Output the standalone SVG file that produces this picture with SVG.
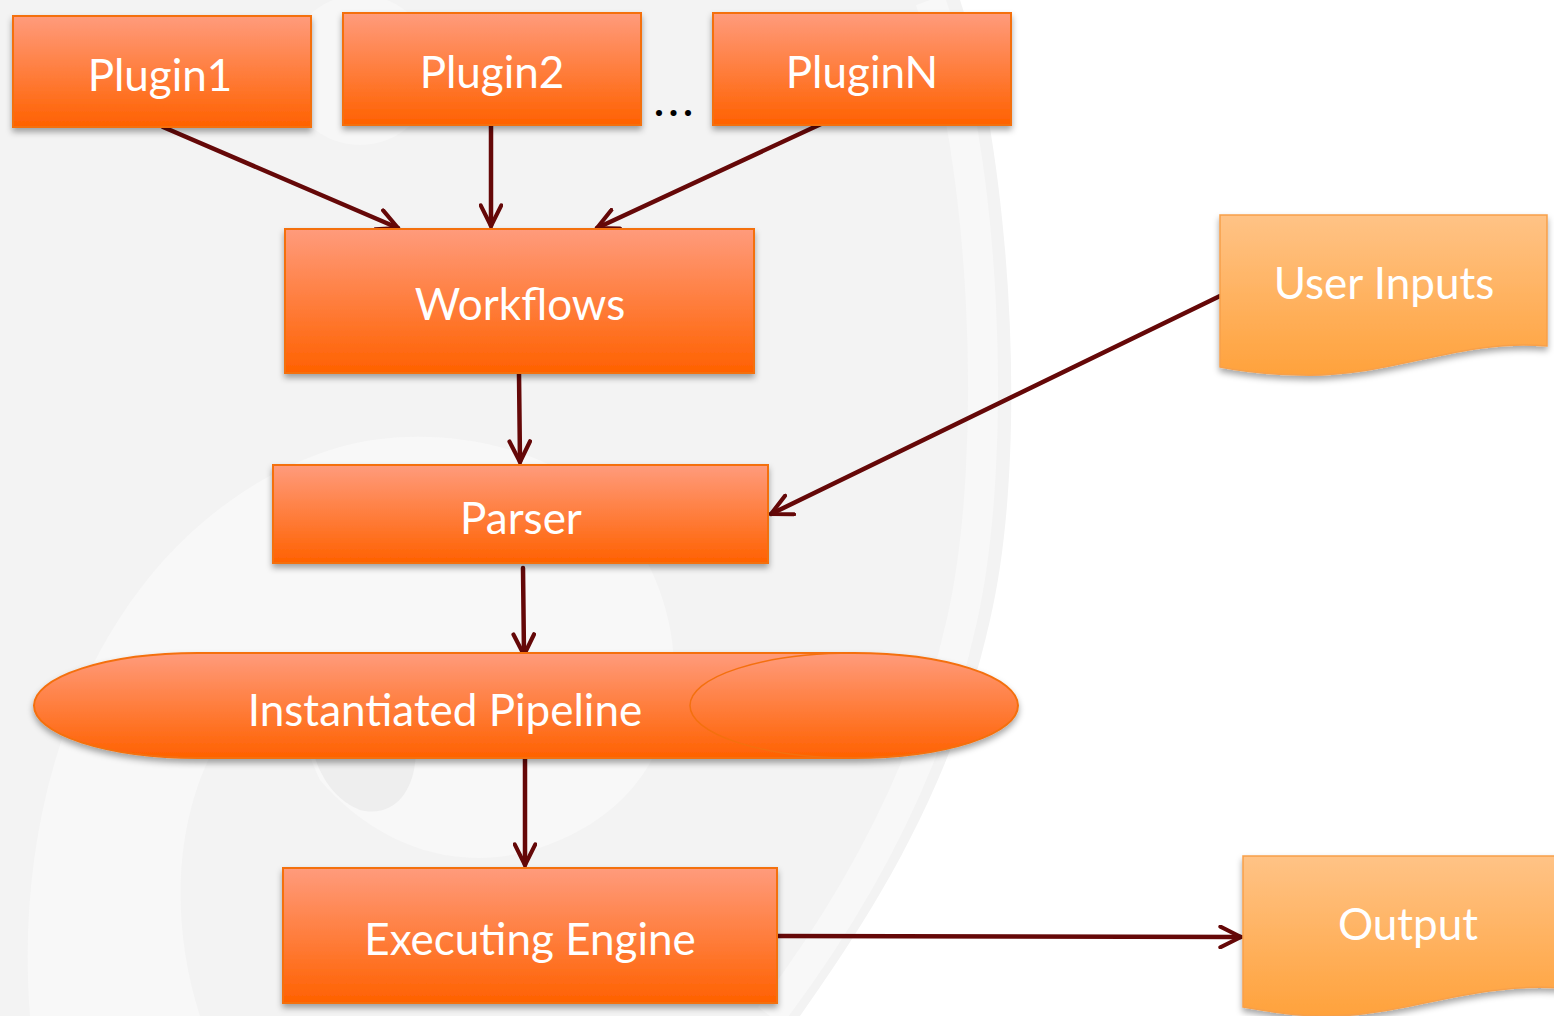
<svg xmlns="http://www.w3.org/2000/svg" width="1554" height="1016" viewBox="0 0 1554 1016">
<defs>
<linearGradient id="gOr" x1="0" y1="0" x2="0" y2="1">
<stop offset="0" stop-color="#ff9b7c"/>
<stop offset="1" stop-color="#ff6100"/>
</linearGradient>
<linearGradient id="gDoc" x1="0" y1="0" x2="0" y2="1">
<stop offset="0" stop-color="#ffc386"/>
<stop offset="1" stop-color="#ffa23c"/>
</linearGradient>
<filter id="sh" x="-10%" y="-10%" width="120%" height="130%">
<feDropShadow dx="0" dy="4" stdDeviation="3" flood-color="#000" flood-opacity="0.35"/>
</filter>
<marker id="ah" viewBox="0 0 12 12" refX="11" refY="6" markerWidth="5.5" markerHeight="5.5" orient="auto" markerUnits="strokeWidth">
<path d="M1,1 L11,6 L1,11" fill="none" stroke="#650808" stroke-width="2" stroke-linecap="round" stroke-linejoin="round"/>
</marker>
<style>
.box{fill:url(#gOr);stroke:#f4700f;stroke-width:2;filter:url(#sh)}
.doc{fill:url(#gDoc);stroke:#f7a04a;stroke-width:1.5;filter:url(#sh)}
.t{font-family:Lato,"Open Sans",sans-serif;font-size:44px;fill:#fff;text-anchor:middle}
.c{fill:none;stroke:#650808;stroke-width:4.5;stroke-linecap:round;marker-end:url(#ah)}
</style>
</defs>
<g id="background">
<rect x="0" y="0" width="1554" height="1016" fill="#f3f3f3"/>
<path d="M960,0 C1010,150 1030,450 990,620 C950,800 860,930 800,1016 L1554,1016 L1554,0 Z" fill="#ffffff"/>
<path d="M930,0 C985,150 1000,450 962,620 C925,790 835,930 770,1016" fill="none" stroke="#f8f8f8" stroke-width="30"/>
<path d="M30,1016 C10,760 120,520 330,450 C420,420 560,440 620,520 C700,620 700,780 560,840 C470,880 380,850 320,780 C300,740 300,700 310,660 C200,700 150,860 200,1016 Z" fill="#f8f8f8"/>
<path d="M310,660 C300,720 310,790 360,810 C400,820 420,780 415,740 C410,700 360,650 310,660 Z" fill="#eeeeee"/>
<circle cx="360" cy="70" r="75" fill="#f7f7f7"/>
</g>
<g id="connectors">
<line class="c" x1="163" y1="127" x2="398" y2="228"/>
<line class="c" x1="491" y1="126" x2="491" y2="226"/>
<line class="c" x1="821" y1="124" x2="597" y2="228"/>
<line class="c" x1="519" y1="374" x2="520" y2="462"/>
<line class="c" x1="1220" y1="296" x2="771" y2="514"/>
<line class="c" x1="523" y1="568" x2="524" y2="655"/>
<line class="c" x1="525" y1="759" x2="525" y2="865"/>
<line class="c" x1="778" y1="936" x2="1241" y2="937"/>
</g>
<g id="plugin1">
<rect class="box" x="13" y="16" width="298" height="111"/>
<text class="t" x="160" y="91">Plugin1</text>
</g>
<g id="plugin2">
<rect class="box" x="343" y="13" width="298" height="112"/>
<text class="t" x="492" y="88">Plugin2</text>
</g>
<g id="ellipsis">
<text x="676" y="116" font-family="Lato,'Open Sans',sans-serif" font-size="40" font-weight="bold" letter-spacing="5" fill="#000" text-anchor="middle">...</text>
</g>
<g id="pluginN">
<rect class="box" x="713" y="13" width="298" height="112"/>
<text class="t" x="862" y="88">PluginN</text>
</g>
<g id="workflows">
<rect class="box" x="285" y="229" width="469" height="144"/>
<text class="t" x="520" y="320">Workflows</text>
</g>
<g id="parser">
<rect class="box" x="273" y="465" width="495" height="98"/>
<text class="t" x="521" y="534">Parser</text>
</g>
<g id="pipeline">
<path class="box" d="M198,653 L854,653 A164,52.5 0 0 1 854,758 L198,758 A164,52.5 0 0 1 198,653 Z"/>
<path d="M854,653 A164,52.5 0 0 0 854,758" fill="none" stroke="#f4700f" stroke-width="1.5"/>
<text class="t" x="445" y="726">Instantiated Pipeline</text>
</g>
<g id="engine">
<rect class="box" x="283" y="868" width="494" height="135"/>
<text class="t" x="530" y="955">Executing Engine</text>
</g>
<g id="userInputs">
<path class="doc" d="M1220,215 H1547 V346 C1460,338 1390,378 1300,375 C1260,374 1235,370 1220,367 Z"/>
<text class="t" x="1384" y="299">User Inputs</text>
</g>
<g id="output">
<path class="doc" d="M1243,856 H1560 V988 C1470,982 1400,1018 1320,1016 C1285,1015 1260,1010 1243,1007 Z"/>
<text class="t" x="1408" y="940">Output</text>
</g>
</svg>
